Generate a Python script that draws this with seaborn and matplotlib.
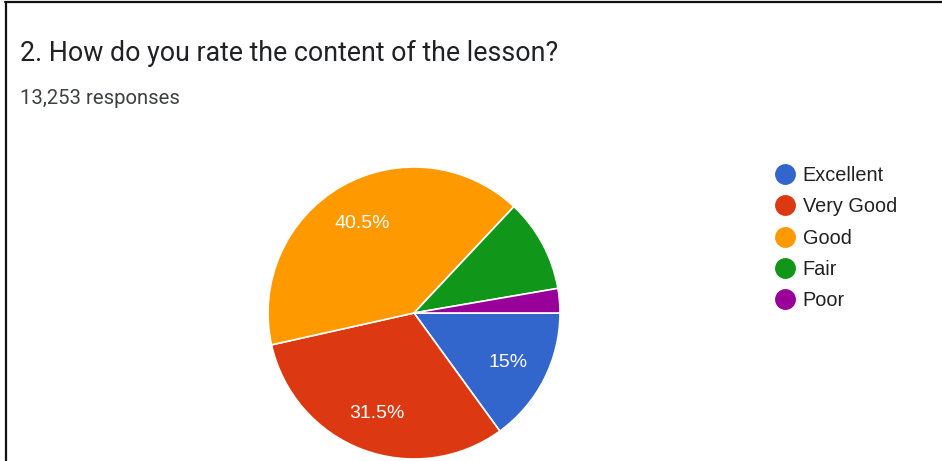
import matplotlib
matplotlib.use("Agg")
import matplotlib.pyplot as plt
from matplotlib.lines import Line2D
import seaborn as sns

categories = ["Excellent", "Very Good", "Good", "Fair", "Poor"]
values = [15.0, 31.5, 40.5, 10.3, 2.7]
colors = ["#3366cc", "#dc3912", "#ff9900", "#109618", "#990099"]
title = "2. How do you rate the content of the lesson?"
subtitle = "13,253 responses"

sns.set_theme(style="white")
plt.rcParams["font.family"] = ["Roboto", "DejaVu Sans"]

W, H = 942, 461
fig = plt.figure(figsize=(W / 100, H / 100), dpi=100)
fig.patch.set_facecolor("white")

# pie axes: centre (414, 313) px, radius 146 px
cx, cy, r = 414, 313, 146
ax = fig.add_axes([(cx - r) / W, (H - cy - r) / H, 2 * r / W, 2 * r / H])


def fmt(pct):
    return f"{round(pct, 1):g}%" if pct >= 12 else ""


wedges, texts, autotexts = ax.pie(
    values, colors=colors, startangle=0, counterclock=False,
    autopct=fmt, pctdistance=0.72,
    wedgeprops=dict(edgecolor="white", linewidth=1.2),
    textprops=dict(color="white", fontsize=14, family=["Liberation Sans"]),
)
for t in autotexts:
    x, y = t.get_position()
    t.set_position((x, y - 0.015))
ax.set_xlim(-1, 1)
ax.set_ylim(-1, 1)
ax.set_aspect("equal")
ax.axis("off")

# title / subtitle
fig.text(20 / W, 1 - 53 / H, title, fontsize=19.3, color="#202124",
         va="center", ha="left")
fig.text(20 / W, 1 - 98 / H, subtitle, fontsize=14.6, color="#3c4043",
         va="center", ha="left")

# legend
handles = [Line2D([0], [0], marker="o", linestyle="", markersize=14,
                  markerfacecolor=c, markeredgecolor=c) for c in colors]
leg = fig.legend(handles, categories, loc="upper left",
                 bbox_to_anchor=(775 / W, 1 - 166 / H), frameon=False,
                 prop=dict(family="Liberation Sans", size=14.3),
                 labelspacing=0.62, handlelength=1.0, handletextpad=0.4,
                 borderpad=0, borderaxespad=0)
for t in leg.get_texts():
    t.set_color("#212121")

# frame lines (top and left)
fig.add_artist(Line2D([5 / W, 1], [1 - 2.5 / H, 1 - 2.5 / H],
                      transform=fig.transFigure, color="#111111", linewidth=1.6))
fig.add_artist(Line2D([6 / W, 6 / W], [0, 1 - 2.5 / H],
                      transform=fig.transFigure, color="#111111", linewidth=1.6))

fig.savefig("out.png", dpi=100)
